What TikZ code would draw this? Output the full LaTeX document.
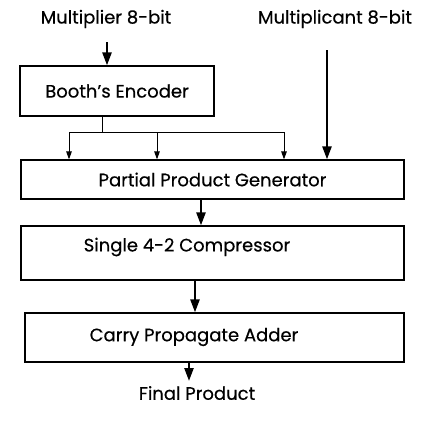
\documentclass[tikz,border=0pt]{standalone}
\usepackage{fontspec}
\setmainfont{Poppins}[FakeBold=0.4]
\usepackage{tikz}
\usetikzlibrary{arrows.meta, positioning}

\begin{document}
\begin{tikzpicture}[
    x=1pt, y=-1pt,
    font=\fontsize{18}{20}\selectfont,
    box/.style={rectangle, draw, line width=1.2pt, inner sep=0pt},
    thin arrow/.style={-{Triangle[length=8pt, width=5.5pt]}, line width=1pt},
    thick arrow/.style={-{Triangle[length=13pt, width=9pt]}, line width=2.4pt}
]
\useasboundingbox (0,0) rectangle (422,421);

% Inputs
\node (mplier) at (106,19) {Multiplier 8-bit};
\node (mcand) at (335,19) {Multiplicant 8-bit};
\coordinate (mplier top) at (107,42);
\coordinate (mcand top) at (327,50);

% Boxes
\node[box, minimum width=194pt, minimum height=50pt] (booth) at (117,91) {Booth's Encoder};
\node[box, minimum width=383pt, minimum height=39pt] (ppg) at (212.5,179.5) {Partial Product Generator};
\node[box, minimum width=383pt, minimum height=54pt] (comp) at (212.5,253) {};
\node (comp text) at (187,247) {Single 4-2 Compressor};
\node[box, minimum width=379pt, minimum height=49pt] (cpa) at (214.5,337.5) {};
\node (cpa text) at (194,337) {Carry Propagate Adder};
\node (final) at (197,393) {Final Product};

% Encoder fan-out
\coordinate (split) at (102,132);
\draw[line width=1pt] (booth.south -| split) -- (split);
\draw[line width=1pt] (69,132) -- (284,132);
\foreach \px in {69,157,284}
    \draw[thin arrow] (\px,132) -- (ppg.north -| \px,0);

% Arrows
\draw[thick arrow] (mplier top) -- (booth.north -| mplier top);
\draw[thick arrow] (mcand top) -- (ppg.north -| mcand top);
\draw[thick arrow] (ppg.south -| 201,0) -- (comp.north -| 201,0);
\draw[thick arrow] (comp.south -| 195,0) -- (cpa.north -| 195,0);
\draw[thick arrow] (cpa.south -| 189,0) -- (189,381);

\end{tikzpicture}
\end{document}
